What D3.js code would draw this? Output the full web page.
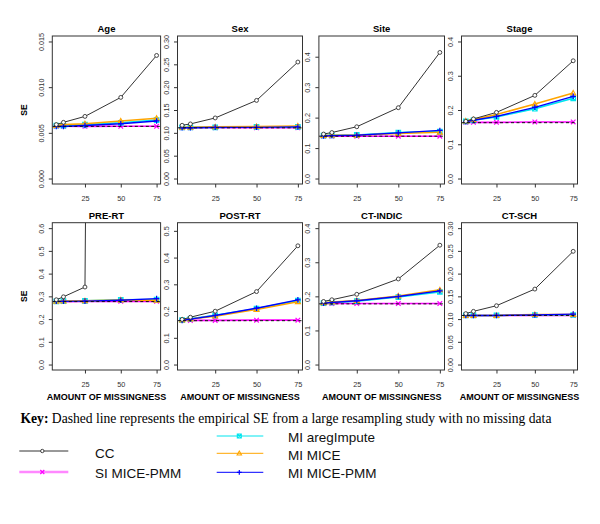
<!DOCTYPE html>
<html><head><meta charset="utf-8">
<script src="https://cdn.jsdelivr.net/npm/d3@7"></script>
<style>body{margin:0;background:#fff}svg{display:block}</style>
</head><body>
<script>
// ---------- data ----------
const panels = ["Age","Sex","Site","Stage","PRE-RT","POST-RT","CT-INDIC","CT-SCH"];
const missingness = [5,10,25,50,75];
const xTicks = [25,50,75];
const yMax = [0.015,0.30,0.45,0.40,0.60,0.51,0.40,0.30];
const yTicks = [
  [0,0.005,0.010,0.015],
  [0,0.05,0.10,0.15,0.20,0.25,0.30],
  [0,0.1,0.2,0.3,0.4],
  [0,0.1,0.2,0.3,0.4],
  [0,0.1,0.2,0.3,0.4,0.5,0.6],
  [0,0.1,0.2,0.3,0.4,0.5],
  [0,0.1,0.2,0.3,0.4],
  [0,0.05,0.10,0.15,0.20,0.25,0.30]
];
const yTickFormats = [".3f",".2f",".1f",".1f",".1f",".1f",".1f",".2f"];
const seriesNames = ["CC","SI MICE-PMM","MI aregImpute","MI MICE","MI MICE-PMM"];
const cc = [
  [0.0059,0.00615,0.0068,0.00888,0.01347],
  [0.1165,0.1195,0.1326,0.171,0.255],
  [0.146,0.151,0.170,0.2325,0.414],
  [0.167,0.174,0.193,0.2427,0.3437],
  [0.285,0.298,0.341,20.0,25.0],
  [0.1686,0.177,0.1995,0.2728,0.444],
  [0.185,0.190,0.206,0.251,0.350],
  [0.112,0.117,0.1294,0.166,0.249]
];
const siMicePmm = [
  [0.00572,0.00572,0.00571,0.00572,0.00572],
  [0.111,0.111,0.111,0.111,0.111],
  [0.139,0.139,0.139,0.139,0.139],
  [0.164,0.164,0.164,0.165,0.165],
  [0.277,0.277,0.278,0.278,0.278],
  [0.165,0.165,0.165,0.166,0.166],
  [0.179,0.179,0.179,0.179,0.179],
  [0.108,0.108,0.108,0.108,0.108]
];
const miAregImpute = [
  [0.0058,0.0058,0.0059,0.0061,0.0064],
  [0.112,0.112,0.112,0.113,0.113],
  [0.141,0.142,0.143,0.151,0.154],
  [0.167,0.170,0.180,0.204,0.234],
  [0.278,0.279,0.280,0.285,0.286],
  [0.166,0.171,0.184,0.209,0.239],
  [0.180,0.182,0.186,0.198,0.213],
  [0.108,0.108,0.108,0.109,0.109]
];
const miMice = [
  [0.0058,0.0059,0.0060,0.0063,0.0066],
  [0.112,0.112,0.113,0.114,0.115],
  [0.141,0.142,0.142,0.148,0.152],
  [0.168,0.172,0.187,0.2175,0.2496],
  [0.278,0.279,0.280,0.284,0.283],
  [0.166,0.170,0.181,0.206,0.235],
  [0.181,0.183,0.188,0.201,0.219],
  [0.108,0.108,0.108,0.110,0.110]
];
const miMicePmm = [
  [0.0057,0.0057,0.0058,0.0060,0.0063],
  [0.111,0.111,0.112,0.112,0.113],
  [0.140,0.141,0.142,0.150,0.158],
  [0.166,0.170,0.1815,0.2077,0.2398],
  [0.278,0.278,0.279,0.283,0.290],
  [0.165,0.170,0.1835,0.2107,0.242],
  [0.180,0.182,0.187,0.1995,0.216],
  [0.108,0.108,0.108,0.109,0.111]
];
const empiricalSE = [0.00571,0.111,0.139,0.163,0.277,0.164,0.178,0.108];
const keyBold = "Key:";
const keyText = " Dashed line represents the empirical SE from a large resampling study with no missing data";
const xAxisTitle = "AMOUNT OF MISSINGNESS";
const yAxisTitle = "SE";

// ---------- layout / style ----------
const W = 600, H = 524;
const colL = [52.3,177.5,318.9,461.5], colR = [160.6,302.5,444.5,577.5];
const rowT = [36,222.7], rowB = [184,370];
const SANS = "'Liberation Sans', Arial, Helvetica, sans-serif";
const SERIF = "'Liberation Serif', 'Times New Roman', serif";
const AX = "#333";

const styles = {
  "CC": {color:"#333", width:1, marker:"circle"},
  "SI MICE-PMM": {color:"#ff00ff", width:1.6, marker:"x", legendColor:"#ff88ff", legendWidth:2.6},
  "MI aregImpute": {color:"#00e5ee", width:1.6, marker:"sqx"},
  "MI MICE": {color:"#ffa500", width:1.6, marker:"triangle"},
  "MI MICE-PMM": {color:"#0000ff", width:1.4, marker:"plus"}
};
const seriesData = {"CC":cc,"SI MICE-PMM":siMicePmm,"MI aregImpute":miAregImpute,"MI MICE":miMice,"MI MICE-PMM":miMicePmm};
const drawOrder = ["SI MICE-PMM","MI aregImpute","MI MICE","MI MICE-PMM","CC"];

const svg = d3.select("body").append("svg").attr("width",W).attr("height",H)
  .attr("font-family",SANS);

function marker(g, type, x, y, color, s) {
  s = s || 2.6;
  if (type === "circle") {
    g.append("circle").attr("cx",x).attr("cy",y).attr("r",s*0.85)
      .attr("fill","#fff").attr("stroke",color).attr("stroke-width",0.9);
  } else if (type === "triangle") {
    const h = s*1.1;
    g.append("path").attr("d",`M${x},${y-h}L${x+h},${y+h*0.75}L${x-h},${y+h*0.75}Z`)
      .attr("fill","none").attr("stroke",color).attr("stroke-width",1.1);
  } else if (type === "plus") {
    g.append("path").attr("d",`M${x-s*1.2},${y}H${x+s*1.2}M${x},${y-s*1.2}V${y+s*1.2}`)
      .attr("stroke",color).attr("stroke-width",1.2).attr("fill","none");
  } else if (type === "x") {
    g.append("path").attr("d",`M${x-s},${y-s}L${x+s},${y+s}M${x-s},${y+s}L${x+s},${y-s}`)
      .attr("stroke",color).attr("stroke-width",1.2).attr("fill","none");
  } else if (type === "sqx") {
    g.append("path").attr("d",`M${x-s},${y-s}H${x+s}V${y+s}H${x-s}ZM${x-s},${y-s}L${x+s},${y+s}M${x-s},${y+s}L${x+s},${y-s}`)
      .attr("stroke",color).attr("stroke-width",1.1).attr("fill","none");
  }
}

panels.forEach((name, i) => {
  const c = i % 4, r = Math.floor(i / 4);
  const L = colL[c], R = colR[c], T = rowT[r], B = rowB[r];
  const span = yMax[i];
  const x = d3.scaleLinear().domain([2.2,77.8]).range([L,R]);
  const y = d3.scaleLinear().domain([-0.04*span, span*1.04]).range([B,T]);
  const g = svg.append("g");

  const cid = "clip"+i;
  svg.append("clipPath").attr("id",cid).append("rect")
    .attr("x",L).attr("y",T).attr("width",R-L).attr("height",B-T);
  const plot = g.append("g").attr("clip-path",`url(#${cid})`);

  drawOrder.forEach(sn => {
    const st = styles[sn];
    const vals = seriesData[sn][i];
    const pts = missingness.map((m,k)=>[m, vals[k]]);
    plot.append("path").datum(pts)
      .attr("d", d3.line().x(d=>x(d[0])).y(d=>y(d[1])))
      .attr("fill","none").attr("stroke",st.color).attr("stroke-width",st.width);
    pts.forEach(p => { if (p[1] <= span*1.04) marker(plot, st.marker, x(p[0]), y(p[1]), st.color, 2.3); });
  });

  plot.append("line").attr("x1",L).attr("x2",R)
    .attr("y1",y(empiricalSE[i])).attr("y2",y(empiricalSE[i]))
    .attr("stroke","#111").attr("stroke-width",1).attr("stroke-dasharray","3,2.5");

  g.append("rect").attr("x",L).attr("y",T).attr("width",R-L).attr("height",B-T)
    .attr("fill","none").attr("stroke",AX).attr("stroke-width",1);

  const xa = g.append("g").attr("transform",`translate(0,${B})`)
    .call(d3.axisBottom(x).tickValues(xTicks).tickSize(3.5).tickPadding(8).tickFormat(d3.format("d")));
  xa.select(".domain").remove();
  xa.selectAll("line").attr("stroke",AX);
  xa.selectAll("text").attr("font-size",7.3).attr("fill","#333").attr("font-family",SANS);

  const ya = g.append("g").attr("transform",`translate(${L},0)`)
    .call(d3.axisLeft(y).tickValues(yTicks[i]).tickSize(3.5).tickFormat(d3.format(yTickFormats[i])));
  ya.select(".domain").remove();
  ya.selectAll("line").attr("stroke",AX);
  ya.selectAll("text").attr("font-size",7.3).attr("fill","#333").attr("font-family",SANS)
    .attr("transform","rotate(-90)").attr("x",0).attr("y",-8.5).attr("dy",0)
    .attr("text-anchor","middle");

  svg.append("text").attr("x",(L+R)/2).attr("y",T-4).attr("text-anchor","middle")
    .attr("font-weight","bold").attr("font-size",9.5).text(name);

  if (c === 0) {
    svg.append("text").attr("transform",`translate(27,${(T+B)/2}) rotate(-90)`)
      .attr("text-anchor","middle").attr("font-weight","bold").attr("font-size",8.5).text(yAxisTitle);
  }
  if (r === 1) {
    svg.append("text").attr("x",(L+R)/2).attr("y",400).attr("text-anchor","middle")
      .attr("font-weight","bold").attr("font-size",9).text(xAxisTitle);
  }
});

// key text
const kt = svg.append("text").attr("x",20.5).attr("y",423).attr("font-family",SERIF).attr("font-size",13.6);
kt.append("tspan").attr("font-weight","bold").text(keyBold);
kt.append("tspan").text(keyText);

// legend
const legendPos = {
  "CC": {x1:19.3,x2:68.3,mx:42.3,ly:451,tx:95,ty:457.5},
  "SI MICE-PMM": {x1:19.3,x2:68.3,mx:42.3,ly:472,tx:95,ty:478},
  "MI aregImpute": {x1:216.7,x2:263.3,mx:239.3,ly:436,tx:288,ty:441.5},
  "MI MICE": {x1:216.7,x2:263.3,mx:239.3,ly:453.3,tx:288,ty:459.5},
  "MI MICE-PMM": {x1:216.7,x2:263.3,mx:239.3,ly:472.3,tx:288,ty:478}
};
const lg = svg.append("g");
seriesNames.forEach(sn => {
  const st = styles[sn], p = legendPos[sn];
  lg.append("line").attr("x1",p.x1).attr("x2",p.x2).attr("y1",p.ly).attr("y2",p.ly)
    .attr("stroke",st.legendColor||st.color).attr("stroke-width",st.legendWidth||1);
  marker(lg, st.marker, p.mx, p.ly, st.color, 2.0);
  lg.append("text").attr("x",p.tx).attr("y",p.ty).attr("font-size",13.5).attr("fill","#111").text(sn);
});
</script>
</body></html>
